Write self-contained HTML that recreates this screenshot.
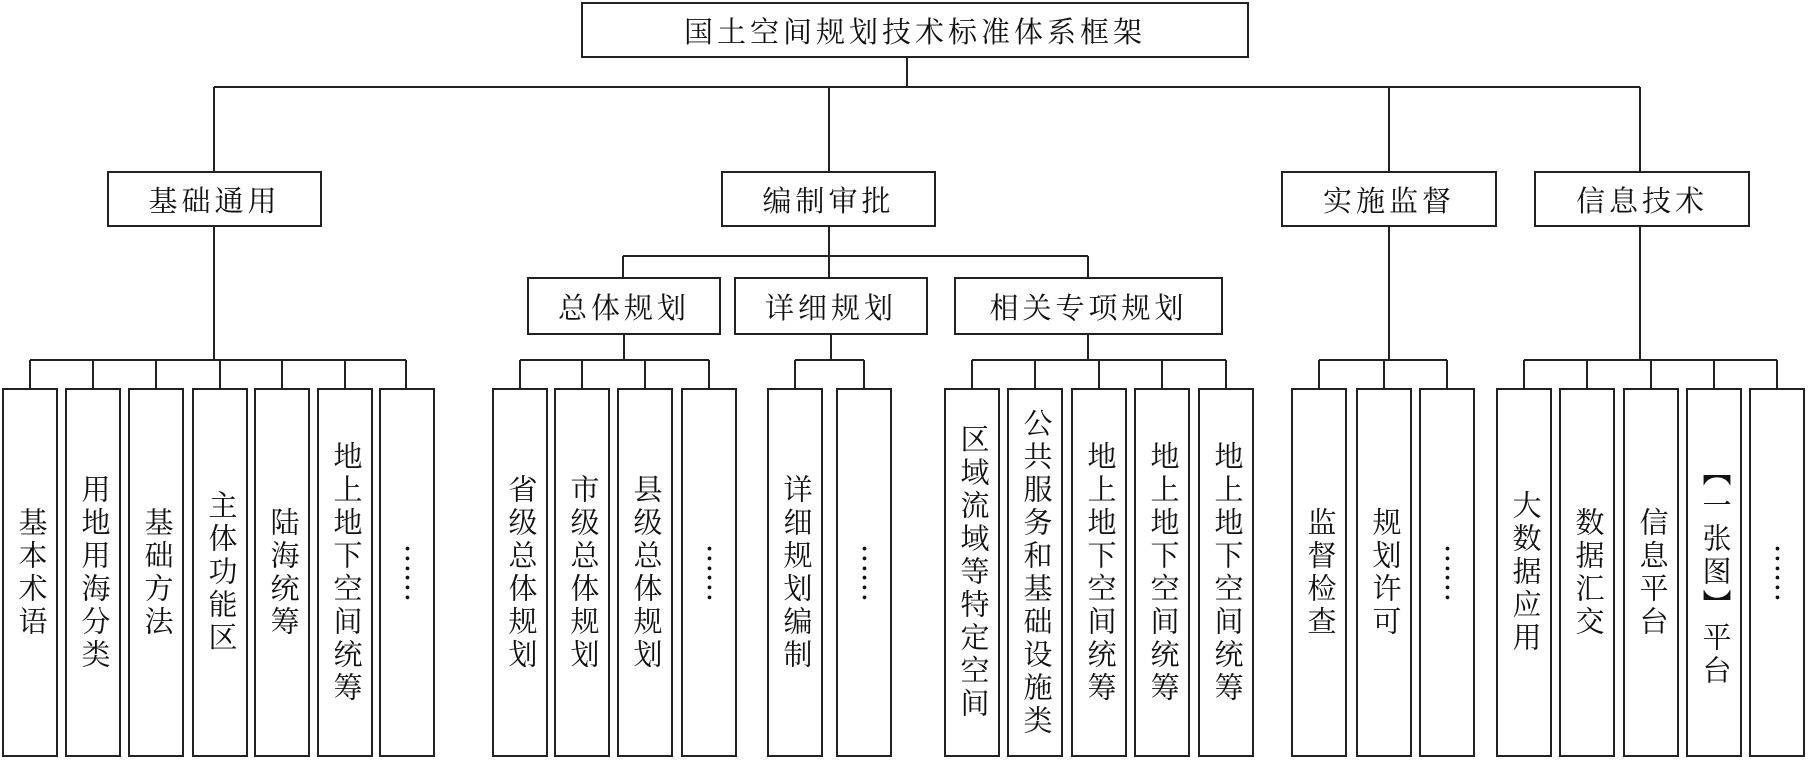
<!DOCTYPE html>
<html><head><meta charset="utf-8"><style>
body{margin:0;width:1810px;height:762px;background:#fff;position:relative;overflow:hidden;font-family:"Liberation Serif","Noto Serif CJK SC","Noto Sans CJK SC",serif;color:#111}
.b{position:absolute;box-sizing:border-box;border:2px solid #222;background:#fff;display:flex;align-items:center;justify-content:center;font-size:29px;letter-spacing:4px;white-space:nowrap}
.v{writing-mode:vertical-rl;text-orientation:upright;line-height:1}
.e{font-family:"Noto Sans CJK SC",sans-serif;letter-spacing:0}
svg{position:absolute;left:0;top:0}
</style></head><body>
<svg width="1810" height="762" stroke="#222" stroke-width="2" fill="none">
<path d="M907 58V87M214 87H1640M214 87V171M829 87V171M1389 87V171M1640 87V171"/>
<path d="M214 227V360M30 360H406M30 360V388M93 360V388M156 360V388M220 360V388M282 360V388M345 360V388M406 360V388"/>
<path d="M829 227V256M623 256H1088M623 256V277M829 256V277M1088 256V277"/>
<path d="M624 335V360M520 360H709M520 360V388M582 360V388M645 360V388M709 360V388"/>
<path d="M831 335V360M795 360H864M795 360V388M864 360V388"/>
<path d="M1088 335V360M972 360H1226M972 360V388M1035 360V388M1099 360V388M1162 360V388M1226 360V388"/>
<path d="M1389 227V360M1319 360H1447M1319 360V388M1384 360V388M1447 360V388"/>
<path d="M1640 227V360M1524 360H1777M1524 360V388M1587 360V388M1651 360V388M1714 360V388M1777 360V388"/>
</svg>
<div class="b" style="left:581px;top:2px;width:668px;height:56px">国土空间规划技术标准体系框架</div>
<div class="b" style="left:107px;top:171px;width:215px;height:56px">基础通用</div>
<div class="b" style="left:721px;top:171px;width:215px;height:56px">编制审批</div>
<div class="b" style="left:1281px;top:171px;width:216px;height:56px">实施监督</div>
<div class="b" style="left:1534px;top:171px;width:216px;height:56px">信息技术</div>
<div class="b" style="left:527px;top:277px;width:194px;height:58px">总体规划</div>
<div class="b" style="left:734px;top:277px;width:194px;height:58px">详细规划</div>
<div class="b" style="left:954px;top:277px;width:269px;height:58px">相关专项规划</div>

<div class="b v" style="left:2px;top:388px;width:56px;height:369px">基本术语</div>
<div class="b v" style="left:65px;top:388px;width:56px;height:369px">用地用海分类</div>
<div class="b v" style="left:128px;top:388px;width:56px;height:369px">基础方法</div>
<div class="b v" style="left:192px;top:388px;width:56px;height:369px">主体功能区</div>
<div class="b v" style="left:254px;top:388px;width:56px;height:369px">陆海统筹</div>
<div class="b v" style="left:317px;top:388px;width:56px;height:369px">地上地下空间统筹</div>
<div class="b v e" style="left:379px;top:388px;width:56px;height:369px">︙︙</div>

<div class="b v" style="left:492px;top:388px;width:56px;height:369px">省级总体规划</div>
<div class="b v" style="left:554px;top:388px;width:56px;height:369px">市级总体规划</div>
<div class="b v" style="left:617px;top:388px;width:56px;height:369px">县级总体规划</div>
<div class="b v e" style="left:681px;top:388px;width:56px;height:369px">︙︙</div>

<div class="b v" style="left:767px;top:388px;width:56px;height:369px">详细规划编制</div>
<div class="b v e" style="left:836px;top:388px;width:56px;height:369px">︙︙</div>

<div class="b v" style="left:944px;top:388px;width:56px;height:369px">区域流域等特定空间</div>
<div class="b v" style="left:1007px;top:388px;width:56px;height:369px">公共服务和基础设施类</div>
<div class="b v" style="left:1071px;top:388px;width:56px;height:369px">地上地下空间统筹</div>
<div class="b v" style="left:1134px;top:388px;width:56px;height:369px">地上地下空间统筹</div>
<div class="b v" style="left:1198px;top:388px;width:56px;height:369px">地上地下空间统筹</div>

<div class="b v" style="left:1291px;top:388px;width:56px;height:369px">监督检查</div>
<div class="b v" style="left:1356px;top:388px;width:56px;height:369px">规划许可</div>
<div class="b v e" style="left:1419px;top:388px;width:56px;height:369px">︙︙</div>

<div class="b v" style="left:1496px;top:388px;width:56px;height:369px">大数据应用</div>
<div class="b v" style="left:1559px;top:388px;width:56px;height:369px">数据汇交</div>
<div class="b v" style="left:1623px;top:388px;width:56px;height:369px">信息平台</div>
<div class="b v" style="left:1686px;top:388px;width:56px;height:369px">【一张图】平台</div>
<div class="b v e" style="left:1749px;top:388px;width:56px;height:369px">︙︙</div>
</body></html>
